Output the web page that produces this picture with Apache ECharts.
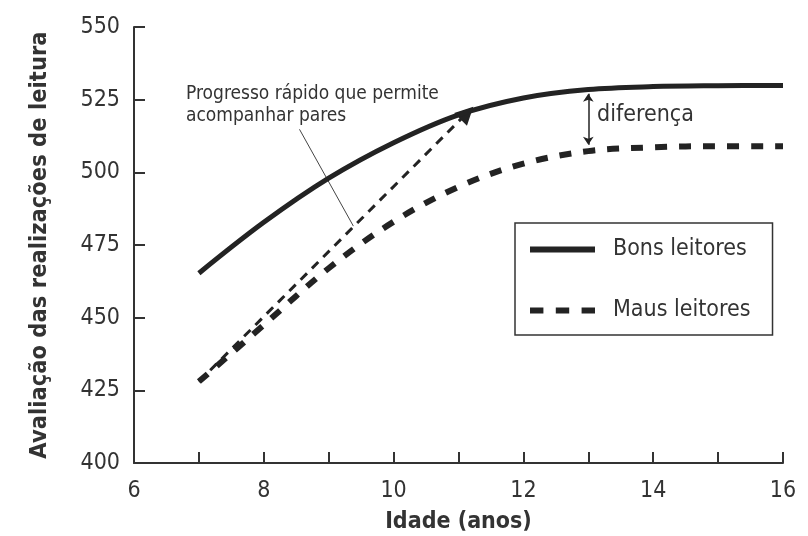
<!DOCTYPE html>
<html>
<head>
<meta charset="utf-8">
<script src="https://cdn.jsdelivr.net/npm/echarts@6/dist/echarts.min.js"></script>
<style>
  html, body { margin: 0; padding: 0; background: #fff; }
  #chart { width: 808px; height: 536px; }
</style>
</head>
<body>
<div id="chart"></div>
<script>
// idade (anos)
var idades = [7, 8, 9, 10, 11, 12, 13, 14, 15, 16];
// Bons leitores
var bons = [465.3, 482.8, 498, 510.2, 519.8, 525.6, 528.5, 529.5, 529.8, 529.9];
// Maus leitores
var maus = [428, 447.5, 467, 483, 495, 503, 507.3, 508.6, 509, 509];
// seta "Progresso rápido"
var setaProgresso = [[7, 428], [11.13, 520.4]];
// linha de chamada do texto
var chamada = [[8.55, 514.8], [9.38, 481.5]];
// seta "diferença"
var setaDiferenca = [[13.0, 527], [13.0, 509.5]];

var fonte = "'DejaVu Sans Condensed', 'Liberation Sans Narrow', sans-serif";
var cor = "#232323";
var tracos = "path://M0,0h13v6h-13z M25,0h13v6h-13z M50,0h13v6h-13z";

function pares(xs, ys) {
  var out = [];
  for (var i = 0; i < xs.length; i++) out.push([xs[i], ys[i]]);
  return out;
}

var myChart = echarts.init(document.getElementById("chart"));

var option = {
  animation: false,
  grid: {
    left: 134,
    right: 25,
    top: 27,
    bottom: 73,
    outerBoundsMode: "none"
  },
  legend: {
    orient: "vertical",
    left: 515,
    top: 223,
    padding: [15, 22, 13, 15],
    itemGap: 38,
    itemWidth: 65,
    itemHeight: 6,
    symbolKeepAspect: false,
    borderColor: "#333",
    borderWidth: 1.5,
    textStyle: {
      fontFamily: fonte,
      fontSize: 23,
      color: "#333",
      padding: [0, 0, 0, 13]
    },
    data: [
      { name: "Bons leitores", icon: "rect" },
      { name: "Maus leitores", icon: tracos }
    ]
  },
  xAxis: {
    type: "value",
    min: 6,
    max: 16,
    interval: 1,
    name: "Idade (anos)",
    nameLocation: "middle",
    nameGap: 48,
    nameTextStyle: {
      fontFamily: fonte,
      fontSize: 23,
      fontWeight: "bold",
      color: "#333"
    },
    splitLine: { show: false },
    axisLine: { lineStyle: { color: "#333", width: 2 } },
    axisTick: { inside: true, length: 11, lineStyle: { color: "#333", width: 2 } },
    axisLabel: {
      fontFamily: fonte,
      fontSize: 23,
      color: "#333",
      margin: 17,
      formatter: function (v) { return v % 2 === 0 ? String(v) : ""; }
    }
  },
  yAxis: {
    type: "value",
    min: 400,
    max: 550,
    interval: 25,
    name: "Avaliação das realizações de leitura",
    nameLocation: "middle",
    nameGap: 82,
    nameTextStyle: {
      fontFamily: fonte,
      fontSize: 23.5,
      fontWeight: "bold",
      color: "#333"
    },
    splitLine: { show: false },
    axisLine: { lineStyle: { color: "#333", width: 2 } },
    axisTick: { inside: true, length: 11, lineStyle: { color: "#333", width: 2 } },
    axisLabel: {
      fontFamily: fonte,
      fontSize: 23,
      color: "#333",
      margin: 14
    }
  },
  series: [
    {
      name: "Bons leitores",
      type: "line",
      smooth: 0.35,
      symbol: "none",
      data: pares(idades, bons),
      lineStyle: { color: cor, width: 5 },
      itemStyle: { color: cor }
    },
    {
      name: "Maus leitores",
      type: "line",
      smooth: 0.35,
      symbol: "none",
      data: pares(idades, maus),
      lineStyle: { color: cor, width: 6, type: [12, 12] },
      itemStyle: { color: cor }
    },
    {
      type: "lines",
      coordinateSystem: "cartesian2d",
      symbol: ["none", "triangle"],
      symbolSize: 18,
      lineStyle: { color: cor, width: 3, type: [9, 7], opacity: 1 },
      data: [{ coords: setaProgresso }]
    },
    {
      type: "lines",
      coordinateSystem: "cartesian2d",
      symbol: ["none", "none"],
      lineStyle: { color: "#444", width: 1, opacity: 1 },
      data: [{ coords: chamada }]
    },
    {
      type: "lines",
      coordinateSystem: "cartesian2d",
      symbol: ["arrow", "arrow"],
      symbolSize: 8,
      lineStyle: { color: cor, width: 1.5, opacity: 1 },
      data: [{ coords: setaDiferenca }]
    }
  ],
  graphic: [
    {
      type: "text",
      left: 186,
      top: 83,
      style: {
        text: "Progresso rápido que permite\nacompanhar pares",
        font: "19px " + fonte,
        fill: "#333",
        lineHeight: 22
      }
    },
    {
      type: "text",
      left: 597,
      top: 104,
      style: {
        text: "diferença",
        font: "23px " + fonte,
        fill: "#333"
      }
    }
  ]
};

myChart.setOption(option);
</script>
</body>
</html>
